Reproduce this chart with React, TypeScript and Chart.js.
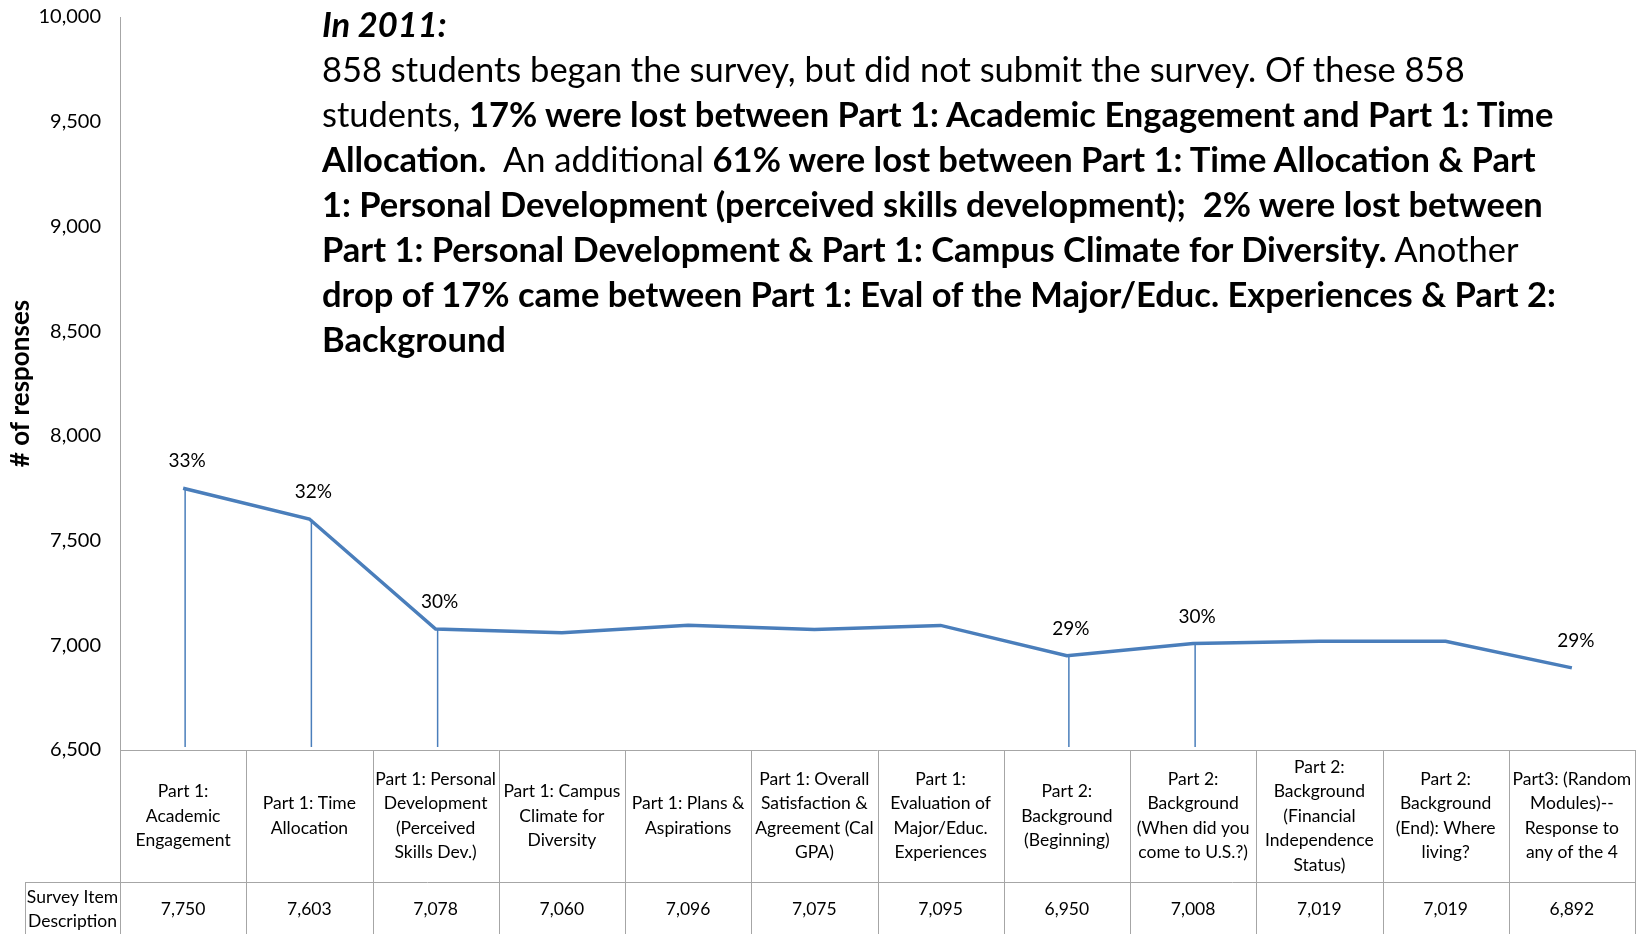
import React, { useEffect, useRef } from "react";
import { Chart, registerables } from "chart.js";

Chart.register(...registerables);

const categories: string[][] = [
  ["Part 1:", "Academic", "Engagement"],
  ["Part 1: Time", "Allocation"],
  ["Part 1: Personal", "Development", "(Perceived", "Skills Dev.)"],
  ["Part 1: Campus", "Climate for", "Diversity"],
  ["Part 1: Plans &", "Aspirations"],
  ["Part 1: Overall", "Satisfaction &", "Agreement (Cal", "GPA)"],
  ["Part 1:", "Evaluation of", "Major/Educ.", "Experiences"],
  ["Part 2:", "Background", "(Beginning)"],
  ["Part 2:", "Background", "(When did you", "come to U.S.?)"],
  ["Part 2:", "Background", "(Financial", "Independence", "Status)"],
  ["Part 2:", "Background", "(End): Where", "living?"],
  ["Part3: (Random", "Modules)--", "Response to", "any of the 4"],
];

const responses: number[] = [7750, 7603, 7078, 7060, 7096, 7075, 7095, 6950, 7008, 7019, 7019, 6892];

const percentLabels: (string | null)[] = ["33%", "32%", "30%", null, null, null, null, "29%", "30%", null, null, "29%"];

const dropLineIndices: number[] = [0, 1, 2, 7, 8];

const yTicks: number[] = [6500, 7000, 7500, 8000, 8500, 9000, 9500, 10000];

const rowHeader: string[] = ["Survey Item", "Description"];

const FONT = "Lato, 'Open Sans', sans-serif";
const LINE = "#4A7EBB";
const GRID = "#A6A6A6";

const fmt = (v: number) => v.toLocaleString("en-US");

export default function App() {
  const ref = useRef<HTMLCanvasElement | null>(null);

  useEffect(() => {
    document.body.style.margin = "0";
    const canvas = ref.current;
    if (!canvas) return;

    const tablePlugin = {
      id: "tablePlugin",
      beforeDatasetsDraw(chart: any) {
        const ctx = chart.ctx;
        const xs = chart.scales.x;
        const ys = chart.scales.y;
        const area = chart.chartArea;
        ctx.save();
        ctx.strokeStyle = LINE;
        ctx.lineWidth = 1.5;
        dropLineIndices.forEach((i) => {
          const x = xs.getPixelForValue(i);
          const y = ys.getPixelForValue(responses[i]);
          ctx.beginPath();
          ctx.moveTo(x + 2, y);
          ctx.lineTo(x + 2, area.bottom - 3);
          ctx.stroke();
        });
        ctx.restore();
      },
      afterDraw(chart: any) {
        const ctx = chart.ctx;
        const xs = chart.scales.x;
        const ys = chart.scales.y;
        const area = chart.chartArea;
        const n = categories.length;
        const colW = (area.right - area.left) / n;
        const row1Top = area.bottom;
        const row2Top = area.bottom + 132;
        const tableBottom = chart.height + 2;
        const headerLeft = 25;

        ctx.save();
        // percent labels
        ctx.fillStyle = "#000";
        ctx.font = `19px ${FONT}`;
        ctx.textAlign = "center";
        ctx.textBaseline = "middle";
        percentLabels.forEach((t, i) => {
          if (!t) return;
          const x = xs.getPixelForValue(i);
          const y = ys.getPixelForValue(responses[i]);
          ctx.fillText(t, x + 4, y - 27);
        });

        // table grid
        ctx.strokeStyle = GRID;
        ctx.lineWidth = 1;
        ctx.beginPath();
        ctx.moveTo(area.left, row1Top + 0.5);
        ctx.lineTo(area.right, row1Top + 0.5);
        ctx.moveTo(headerLeft, row2Top + 0.5);
        ctx.lineTo(area.right, row2Top + 0.5);
        for (let i = 0; i <= n; i++) {
          const x = Math.round(area.left + i * colW) + 0.5;
          ctx.moveTo(x, row1Top);
          ctx.lineTo(x, tableBottom);
        }
        ctx.moveTo(headerLeft + 0.5, row2Top);
        ctx.lineTo(headerLeft + 0.5, tableBottom);
        ctx.stroke();

        // category labels
        ctx.fillStyle = "#000";
        ctx.font = `17.5px ${FONT}`;
        const lh = 24.5;
        const r1c = (row1Top + row2Top) / 2;
        categories.forEach((lines, i) => {
          const x = xs.getPixelForValue(i);
          const start = r1c - ((lines.length - 1) * lh) / 2;
          lines.forEach((l, j) => ctx.fillText(l, x, start + j * lh));
        });

        // values
        const r2c = row2Top + 27;
        responses.forEach((v, i) => {
          ctx.fillText(fmt(v), xs.getPixelForValue(i), r2c);
        });
        const hx = (headerLeft + area.left) / 2;
        ctx.fillText(rowHeader[0], hx, r2c - 12);
        ctx.fillText(rowHeader[1], hx, r2c + 12);
        ctx.restore();
      },
    };

    const chart = new Chart(canvas, {
      type: "line",
      data: {
        labels: categories.map((c) => c.join(" ")),
        datasets: [
          {
            data: responses,
            borderColor: LINE,
            borderWidth: 3.5,
            pointRadius: 0,
            tension: 0,
            fill: false,
          },
        ],
      },
      options: {
        animation: false,
        responsive: false,
        layout: { padding: { left: 5, top: 17, right: 8, bottom: 184 } },
        plugins: { legend: { display: false }, tooltip: { enabled: false } },
        scales: {
          x: { type: "category", display: false, offset: true },
          y: {
            min: 6500,
            max: 10000,
            afterFit: (s: any) => {
              s.width = 115;
              s.paddingTop = 0;
              s.paddingBottom = 0;
            },
            afterBuildTicks: (s: any) => {
              s.ticks = yTicks.map((v) => ({ value: v }));
            },
            grid: { display: false },
            border: { display: true, color: GRID, width: 1 },
            ticks: {
              padding: 11,
              color: "#000",
              font: { family: FONT, size: 20 },
              callback: (v: any) => fmt(Number(v)),
            },
            title: {
              display: true,
              text: "# of responses",
              color: "#000",
              padding: { top: 0, bottom: 0 },
              font: { family: FONT, size: 26, weight: "bold" },
            },
          },
        },
      },
      plugins: [tablePlugin],
    });
    return () => chart.destroy();
  }, []);

  const textStyle: React.CSSProperties = {
    position: "absolute",
    left: 322,
    top: 1,
    fontFamily: FONT,
    fontSize: 34.5,
    lineHeight: "45px",
    color: "#000",
    whiteSpace: "pre",
  };

  return (
    <div style={{ position: "absolute", left: 0, top: 0, width: 1643, height: 934 }}>
      <canvas ref={ref} width={1643} height={934} style={{ display: "block" }} />
      <div style={textStyle}>
        <div><b><i>In 2011:</i></b></div>
        <div>858 students began the survey, but did not submit the survey. Of these 858</div>
        <div>students, <b>17% were lost between Part 1: Academic Engagement and Part 1: Time</b></div>
        <div><b>Allocation.</b>  An additional <b>61% were lost between Part 1: Time Allocation &amp; Part</b></div>
        <div><b>1: Personal Development (perceived skills development);  2% were lost between</b></div>
        <div><b>Part 1: Personal Development &amp; Part 1: Campus Climate for Diversity.</b> Another</div>
        <div><b>drop of 17% came between Part 1: Eval of the Major/Educ. Experiences &amp; Part 2:</b></div>
        <div><b>Background</b></div>
      </div>
    </div>
  );
}
